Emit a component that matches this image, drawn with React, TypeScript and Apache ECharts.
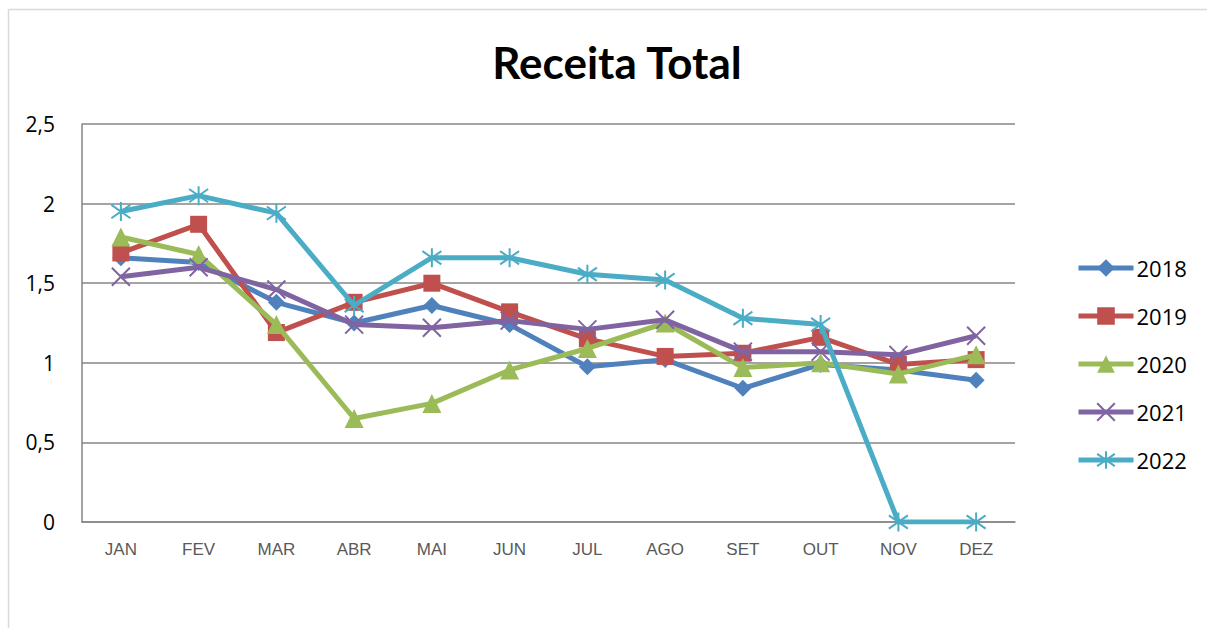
import React, { useEffect, useRef } from "react";
import * as echarts from "echarts";

const months = ["JAN", "FEV", "MAR", "ABR", "MAI", "JUN", "JUL", "AGO", "SET", "OUT", "NOV", "DEZ"];
const s2018 = [1.66, 1.63, 1.38, 1.25, 1.36, 1.24, 0.975, 1.02, 0.84, 0.99, 0.955, 0.89];
const s2019 = [1.69, 1.87, 1.19, 1.38, 1.5, 1.32, 1.15, 1.04, 1.06, 1.16, 0.99, 1.02];
const s2020 = [1.79, 1.68, 1.24, 0.65, 0.745, 0.955, 1.09, 1.25, 0.97, 1.0, 0.93, 1.05];
const s2021 = [1.54, 1.6, 1.46, 1.24, 1.22, 1.265, 1.21, 1.27, 1.07, 1.07, 1.05, 1.17];
const s2022 = [1.95, 2.05, 1.94, 1.36, 1.66, 1.66, 1.556, 1.52, 1.28, 1.24, 0, 0];
const yearNames = ["2018", "2019", "2020", "2021", "2022"];
const colors = ["#4F81BD", "#C0504D", "#9BBB59", "#8064A2", "#4BACC6"];

const xPath = "path://M0 0 L10 10 M10 0 L0 10";
const starPath = "path://M5 0 L5 10 M0.5 1.5 L9.5 8.5 M9.5 1.5 L0.5 8.5";

export default function App() {
  const ref = useRef<HTMLDivElement>(null);
  useEffect(() => {
    document.body.style.margin = "0";
    const chart = echarts.init(ref.current!, null, { renderer: "svg" });
    const data = [s2018, s2019, s2020, s2021, s2022];
    const symbols = ["diamond", "rect", "triangle", xPath, starPath];
    const sizes = [17, 17, 19, 18, 19];
    const series = data.map((d, i) => {
      const stroked = i >= 3;
      return {
        name: yearNames[i],
        type: "line",
        data: d,
        symbol: symbols[i],
        symbolSize: sizes[i],
        showAllSymbol: true,
        lineStyle: { color: colors[i], width: 5 },
        itemStyle: stroked
          ? { color: "transparent", borderColor: colors[i], borderWidth: 2 }
          : { color: colors[i], borderColor: colors[i], borderWidth: 0 },
        emphasis: { disabled: true },
        z: 2 + i,
      };
    });
    chart.setOption({
      animation: false,
      backgroundColor: "#ffffff",
      title: {
        text: "Receita Total",
        left: 612,
        textAlign: "center",
        top: 35,
        textStyle: { fontFamily: "Lato", fontWeight: "bold", fontSize: 44, color: "#000000" },
      },
      grid: { left: 82, right: 192, top: 124, bottom: 106, containLabel: false },
      xAxis: {
        type: "category",
        data: months,
        boundaryGap: true,
        axisLine: { show: true, lineStyle: { color: "#868686", width: 1.5 } },
        axisTick: { show: false },
        axisLabel: { color: "#595959", fontSize: 17, fontFamily: "Liberation Sans", margin: 19 },
      },
      yAxis: {
        type: "value",
        min: 0,
        max: 2.5,
        interval: 0.5,
        axisLine: { show: true, lineStyle: { color: "#868686", width: 1.5 } },
        axisTick: { show: false },
        splitLine: { lineStyle: { color: "#868686", width: 1.5 } },
        axisLabel: {
          color: "#000000",
          fontSize: 21,
          fontFamily: "Open Sans",
          margin: 27,
          formatter: (v: number) => String(v).replace(".", ","),
        },
      },
      legend: {
        orient: "vertical",
        left: 1071,
        top: 252,
        itemWidth: 55,
        itemHeight: 22,
        itemGap: 26,
        lineStyle: { width: 5 },
        textStyle: { fontSize: 22, fontFamily: "Open Sans", color: "#000000", padding: [0, 0, 0, -2] },
        data: yearNames,
      },
      graphic: [
        { type: "line", shape: { x1: 8.5, y1: 9.5, x2: 1207, y2: 9.5 }, style: { stroke: "#d9d9d9", lineWidth: 1.5 } },
        { type: "line", shape: { x1: 8.5, y1: 9.5, x2: 8.5, y2: 628 }, style: { stroke: "#d9d9d9", lineWidth: 1.5 } },
      ],
      series,
    });
    return () => chart.dispose();
  }, []);
  return <div ref={ref} style={{ width: 1207, height: 628 }} />;
}
